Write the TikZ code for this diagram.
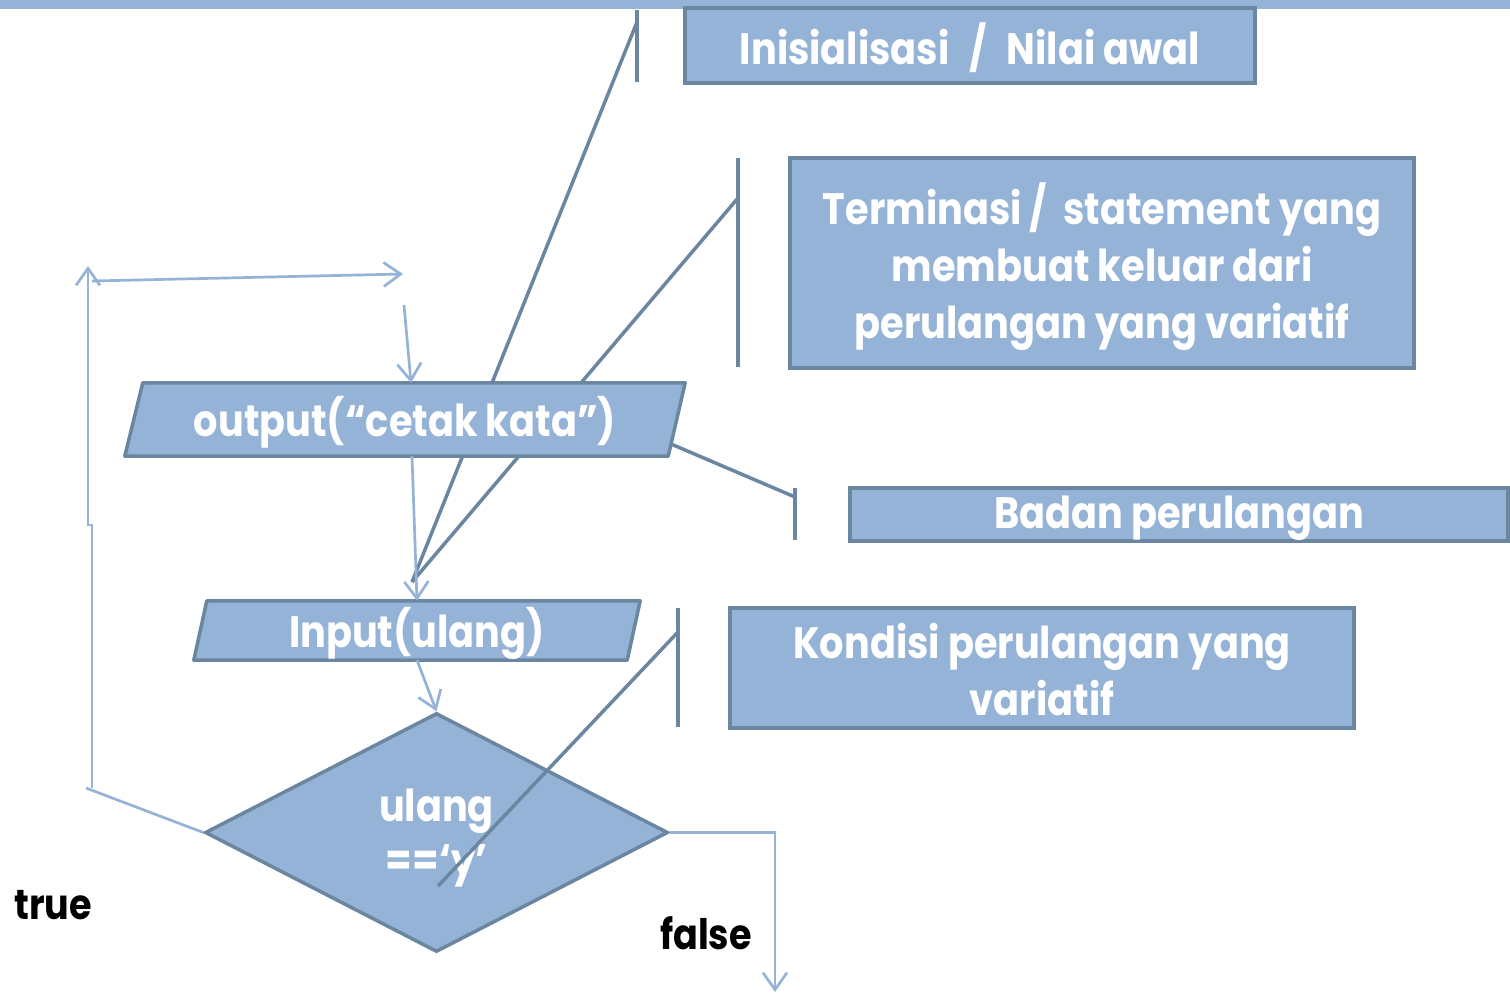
\documentclass[tikz,border=0pt]{standalone}
\usepackage{fontspec}
\setmainfont{Poppins}[FakeStretch=0.87]
\usetikzlibrary{shapes.geometric,arrows.meta,calc}
\definecolor{boxfill}{RGB}{149,179,215}
\definecolor{boxline}{RGB}{106,134,160}
\definecolor{flow}{RGB}{149,179,215}

\begin{document}
\begin{tikzpicture}[x=1pt,y=-1pt,
  txt/.style={font=\fontsize{44}{57}\selectfont\bfseries, text=white, align=center, inner sep=0pt},
  infobox/.style={draw=boxline, line width=3.5pt, fill=boxfill, inner sep=0pt},
  frame/.style={inner sep=0pt},
  shapefill/.style={draw=boxline, line width=3.5pt, fill=boxfill, line join=round},
  decision/.style={diamond, draw=boxline, line width=3.5pt, fill=boxfill, inner sep=0pt},
  callout/.style={draw=boxline, line width=3.5pt},
  flowline/.style={draw=flow, line width=2.7pt},
  flowarrow/.style={flowline, -{Straight Barb[length=17pt,width=24pt,line width=2.7pt]}},
  caption/.style={font=\fontsize{42}{48}\selectfont\bfseries, text=black, inner sep=0pt}]
\useasboundingbox (0,0) rectangle (1510,994);

% top band
\fill[flow] (0,0) rectangle (1510,9);

% callouts that pass behind the output block
\coordinate (i1) at (637,10);
\coordinate (i2) at (637,82);
\coordinate (i3) at (637,22);
\coordinate (t1) at (738,158);
\coordinate (t2) at (738,367);
\coordinate (t3) at (738,198);
\coordinate (meet) at (412,582);
\draw[callout] (i1) -- (i2);
\draw[callout] (i3) -- (meet);
\draw[callout] (t1) -- (t2);
\draw[callout] (t3) -- (meet);

% output block (parallelogram)
\node[frame, minimum width=560pt, minimum height=73pt] (out) at (405,419.5) {};
\draw[shapefill] ([xshift=18pt]out.north west) -- (out.north east)
  -- ([xshift=-17pt]out.south east) -- (out.south west) -- cycle;
\node[txt] (outtxt) at ([yshift=-3pt]out.center) {output(“cetak kata”)};

% input block (parallelogram)
\node[frame, minimum width=446pt, minimum height=59pt] (inp) at (417,630.5) {};
\draw[shapefill] ([xshift=13pt]inp.north west) -- (inp.north east)
  -- ([xshift=-13pt]inp.south east) -- (inp.south west) -- cycle;
\node[txt] (inptxt) at ([yshift=-3pt]inp.center) {Input(ulang)};

% decision
\node[decision, minimum width=463pt, minimum height=239pt] (dia) at (436.5,832.5) {\rule{2pt}{0pt}\strut};
\node[txt, font=\fontsize{44}{54}\selectfont\bfseries] (diatxt) at ([yshift=-6pt]dia.center) {ulang\\==‘y’};

% description boxes
\node[infobox, minimum width=570pt, minimum height=75pt] (init) at (970,45.5) {};
\node[txt] (inittxt) at ([yshift=-2pt]init.center) {Inisialisasi\hspace{20pt}/\hspace{20pt}Nilai awal};
\node[infobox, minimum width=624pt, minimum height=210pt] (term) at (1102,263) {};
\node[txt] (termtxt) at ([yshift=-4pt]term.center)
  {Terminasi /\ \ statement yang\\membuat keluar dari\\perulangan yang variatif};
\node[infobox, minimum width=658pt, minimum height=53pt] (body) at (1179,514.5) {};
\node[txt] (bodytxt) at ([yshift=-4pt]body.center) {Badan perulangan};
\node[infobox, minimum width=624pt, minimum height=120pt] (cond) at (1042,668) {};
\node[txt] (condtxt) at ([yshift=-2pt]cond.center) {Kondisi perulangan yang\\variatif};

% callouts drawn over the blocks
\coordinate (b1) at (795,488);
\coordinate (b2) at (795,540);
\coordinate (b3) at (795,497);
\coordinate (b4) at (671,444);
\draw[callout] (b1) -- (b2);
\draw[callout] (b3) -- (b4);
\coordinate (k1) at (678,608);
\coordinate (k2) at (678,727);
\coordinate (k3) at (678,632);
\coordinate (k4) at (438,886);
\draw[callout] (k1) -- (k2);
\draw[callout] (k3) -- (k4);

% flow connectors
\coordinate (lp0) at (86,788);
\coordinate (lp1) at (92,788);
\coordinate (lp2) at (92,525);
\coordinate (lp3) at (88,525);
\coordinate (lp4) at (88,266);
\coordinate (lp5) at (92,281);
\coordinate (lp6) at (403,274);
\coordinate (lp7) at (404,305);
\coordinate (fend) at (775,992);
\draw[flowline] (dia.west) -- (lp0);
\draw[flowarrow] (lp1) -- (lp2) -- (lp3) -- (lp4);
\draw[flowarrow] (lp5) -- (lp6);
\draw[flowarrow] (lp7) -- ([xshift=6pt]out.north);
\draw[flowarrow] ([xshift=7pt]out.south) -- (inp.north);
\draw[flowarrow] (inp.south) -- (dia.north);
\draw[flowarrow] (dia.east) -| (fend);

% branch labels
\node[caption, anchor=west] (tlab) at (14,905) {true};
\node[caption, anchor=west] (flab) at (660,933) {false};
\end{tikzpicture}
\end{document}
